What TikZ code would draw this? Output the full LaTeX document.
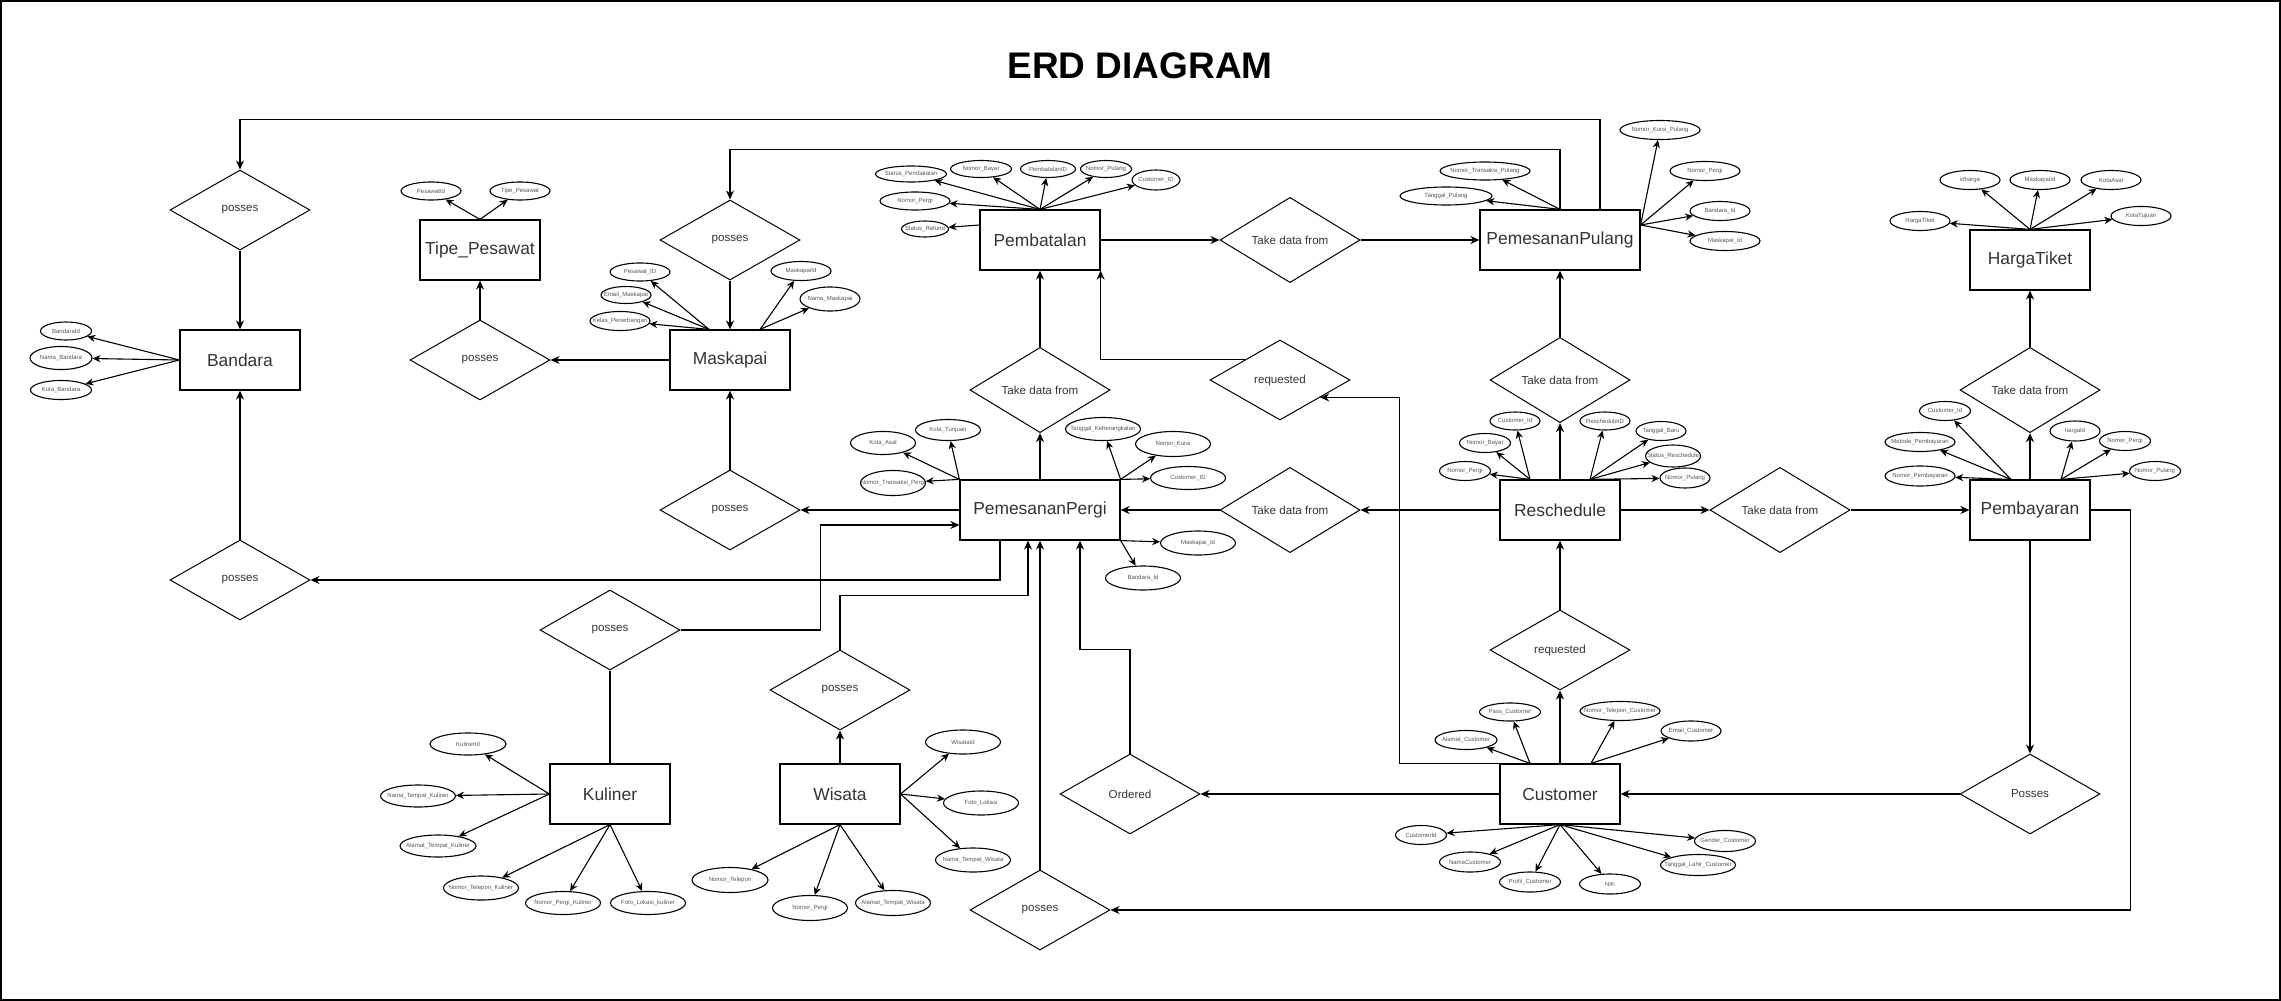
\documentclass[tikz,border=0pt]{standalone}
\usepackage{fontspec}
\setmainfont{Liberation Sans}
\usetikzlibrary{arrows.meta,shapes.geometric,calc}
\definecolor{txtgray}{HTML}{333333}
\definecolor{attrgray}{HTML}{555555}

\begin{document}
\begin{tikzpicture}[x=0.5pt, y=-0.5pt,
    entity/.style={draw, line width=0.6pt, minimum width=60pt, minimum height=30pt, inner sep=0pt, font=\fontsize{8.7}{10}\selectfont, text=txtgray},
    relation/.style={diamond, draw, line width=0.5pt, minimum width=70pt, minimum height=40pt, inner sep=0pt, font=\fontsize{5.8}{6.5}\selectfont, text=txtgray},
    attr/.style={ellipse, draw, line width=0.55pt, inner sep=0pt, minimum width=30pt, minimum height=9.5pt, label={[attrlabel]center:#1}},
    attrlabel/.style={font=\fontsize{3}{3.5}\selectfont, text=attrgray, inner sep=0pt},
    link/.style={-{Stealth[length=4.5pt,width=4pt]}, line width=0.65pt},
    prop/.style={-{Stealth[length=4pt,width=3.6pt]}, line width=0.55pt}]
  \useasboundingbox (0,0) rectangle (2281,1001);
  \draw[line width=0.8pt] (1,1) rectangle (2280,1000);

  \node[font=\bfseries\fontsize{18.5}{20}\selectfont] (title) at (1140,66) {ERD DIAGRAM};

  % Entities
  \node[entity] (bandara) at (240,360) {Bandara};
  \node[entity] (tipe) at (480,250) {Tipe\_Pesawat};
  \node[entity] (maskapai) at (730,360) {Maskapai};
  \node[entity] (pembatalan) at (1040,240) {Pembatalan};
  \node[entity, minimum width=80pt] (pulang) at (1560,240) {PemesananPulang};
  \node[entity] (harga) at (2030,260) {HargaTiket};
  \node[entity, minimum width=80pt] (pergi) at (1040,510) {PemesananPergi};
  \node[entity] (reschedule) at (1560,510) {Reschedule};
  \node[entity] (pembayaran) at (2030,510) {Pembayaran};
  \node[entity] (kuliner) at (610,794) {Kuliner};
  \node[entity] (wisata) at (840,794) {Wisata};
  \node[entity] (customer) at (1560,794) {Customer};

  % Relations
  \node[relation] (possesbandara) at (240,210) {posses};
  \node[relation] (possestipe) at (480,360) {posses};
  \node[relation] (possesmaskapai) at (730,240) {posses};
  \node[relation] (takepulang) at (1290,240) {Take data from};
  \node[relation] (requestbatal) at (1280,380) {requested};
  \node[relation] (takebatal) at (1040,390) {Take data from};
  \node[relation] (takeresc) at (1560,380) {Take data from};
  \node[relation] (takeharga) at (2030,390) {Take data from};
  \node[relation] (takepergi) at (1290,510) {Take data from};
  \node[relation] (takebayar) at (1780,510) {Take data from};
  \node[relation] (possesplane) at (730,510) {posses};
  \node[relation] (possesairport) at (240,580) {posses};
  \node[relation] (possesfood) at (610,630) {posses};
  \node[relation] (possestour) at (840,690) {posses};
  \node[relation] (requestresc) at (1560,650) {requested};
  \node[relation] (ordered) at (1130,794) {Ordered};
  \node[relation] (possesorder) at (1040,910) {posses};
  \node[relation] (possespay) at (2030,794) {Posses};

  % Attributes
  \node[attr={BandaraId}, minimum width=25.5pt, minimum height=9pt] (b1) at (66,331) {};
  \node[attr={Nama\_Bandara}, minimum width=31pt, minimum height=11.5pt] (b2) at (61,358) {};
  \node[attr={Kota\_Bandara}, minimum width=30.5pt] (b3) at (61,390) {};

  \node[attr={PesawatId}, minimum height=9pt] (t1) at (431,191) {};
  \node[attr={Tipe\_Pesawat}, minimum height=9pt] (t2) at (520,191) {};

  \node[attr={Pesawat\_ID}, minimum height=9pt] (m1) at (640,272) {};
  \node[attr={Email\_Maskapai}, minimum width=25pt, minimum height=8.5pt] (m2) at (626,295) {};
  \node[attr={Kelas\_Penerbangan}] (m3) at (620,321) {};
  \node[attr={MaskapaiId}] (m4) at (801,271) {};
  \node[attr={Nama\_Maskapai}, minimum height=12pt] (m5) at (830,299) {};

  \node[attr={Status\_Pembatalan}, minimum width=35.5pt, minimum height=8pt] (pb1) at (911,174) {};
  \node[attr={Nomor\_Bayar}, minimum width=30.5pt, minimum height=8.5pt] (pb2) at (981,169) {};
  \node[attr={PembatalanID}, minimum width=27.5pt, minimum height=8.5pt] (pb3) at (1048,169) {};
  \node[attr={Nomor\_Pulang}, minimum width=25.5pt, minimum height=8.5pt] (pb4) at (1106,169) {};
  \node[attr={Customer\_ID}, minimum width=24pt, minimum height=10pt] (pb5) at (1156,180) {};
  \node[attr={Nomor\_Pergi}, minimum width=35pt, minimum height=9pt] (pb6) at (915,201) {};
  \node[attr={Status\_Refund}, minimum width=23.5pt, minimum height=8pt] (pb7) at (925,229) {};

  \node[attr={Nomor\_Transaksi\_Pulang}, minimum width=45pt, minimum height=9pt] (pp1) at (1485,171) {};
  \node[attr={Tanggal\_Pulang}, minimum width=46pt, minimum height=9pt] (pp2) at (1446,196) {};
  \node[attr={Nomor\_Kursi\_Pulang}, minimum width=40pt] (pp3) at (1660,130) {};
  \node[attr={Nomor\_Pergi}, minimum width=35pt] (pp4) at (1705,171) {};
  \node[attr={Bandara\_Id}] (pp5) at (1720,211) {};
  \node[attr={Maskapai\_Id}, minimum width=35pt] (pp6) at (1725,241) {};

  \node[attr={idharga}] (h1) at (1970,180) {};
  \node[attr={MaskapaiId}] (h2) at (2040,180) {};
  \node[attr={KotaAsal}] (h3) at (2111,180) {};
  \node[attr={HargaTiket}] (h4) at (1920,221) {};
  \node[attr={KotaTujuan}] (h5) at (2141,216) {};

  \node[attr={Kota\_Asal}, minimum width=32.5pt, minimum height=11.5pt] (pg1) at (883,443) {};
  \node[attr={Kota\_Tunjuan}, minimum width=32.5pt, minimum height=10.5pt] (pg2) at (948,430) {};
  \node[attr={Nomor\_Transaksi\_Pergi}, minimum width=32.5pt, minimum height=12.5pt] (pg3) at (893,483) {};
  \node[attr={Tanggal\_Keberangkatan}, minimum width=37.5pt, minimum height=11.5pt] (pg4) at (1103,429) {};
  \node[attr={Nomor\_Kursi}, minimum width=37.5pt, minimum height=12.5pt] (pg5) at (1173,444) {};
  \node[attr={Customer\_ID}, minimum width=37.5pt, minimum height=11.5pt] (pg6) at (1188,478) {};
  \node[attr={Maskapai\_Id}, minimum width=37.5pt, minimum height=12pt] (pg7) at (1198,543) {};
  \node[attr={Bandara\_Id}, minimum width=37.5pt, minimum height=12pt] (pg8) at (1143,578) {};

  \node[attr={Customer\_Id}, minimum width=25pt, minimum height=9pt] (r1) at (1515,421) {};
  \node[attr={Nomor\_Bayar}, minimum width=25.5pt] (r2) at (1485,443) {};
  \node[attr={Nomor\_Pergi}, minimum width=25.5pt] (r3) at (1465,471) {};
  \node[attr={RescheduleID}, minimum width=25pt, minimum height=9pt] (r4) at (1605,421) {};
  \node[attr={Tanggal\_Baru}, minimum width=25pt] (r5) at (1661,431) {};
  \node[attr={Status\_Reschedule}, minimum width=27.5pt, minimum height=11pt] (r6) at (1673,456) {};
  \node[attr={Nomor\_Pulang}, minimum width=25pt, minimum height=10pt] (r7) at (1685,478) {};

  \node[attr={Customer\_Id}, minimum width=25.5pt] (py1) at (1945,411) {};
  \node[attr={Metode\_Pembayaran}, minimum width=35pt] (py2) at (1920,442) {};
  \node[attr={Nomor\_Pembayaran}, minimum width=35pt, minimum height=10pt] (py3) at (1920,476) {};
  \node[attr={hargaId}, minimum width=25pt, minimum height=10pt] (py4) at (2075,431) {};
  \node[attr={Nomor\_Pergi}, minimum width=25.5pt] (py5) at (2125,441) {};
  \node[attr={Nomor\_Pulang}, minimum width=25.5pt] (py6) at (2155,471) {};

  \node[attr={KulinerId}, minimum width=38pt, minimum height=11pt] (k1) at (468,744) {};
  \node[attr={Nama\_Tempat\_Kuliner}, minimum width=37.5pt, minimum height=11pt] (k2) at (418,796) {};
  \node[attr={Alamat\_Tempat\_Kuliner}, minimum width=38pt, minimum height=11pt] (k3) at (438,846) {};
  \node[attr={Nomor\_Telepon\_Kuliner}, minimum width=37.5pt, minimum height=12pt] (k4) at (481,888) {};
  \node[attr={Nomor\_Pergi\_Kuliner}, minimum width=37.5pt, minimum height=11.5pt] (k5) at (563,903) {};
  \node[attr={Foto\_Lokasi\_kuliner}, minimum width=37.5pt, minimum height=11.5pt] (k6) at (648,903) {};

  \node[attr={WisataId}, minimum width=37.5pt, minimum height=12pt] (w1) at (963,742) {};
  \node[attr={Foto\_Lokasi}, minimum width=37.5pt, minimum height=12pt] (w2) at (981,803) {};
  \node[attr={Nama\_Tempat\_Wisata}, minimum width=37.5pt, minimum height=12pt] (w3) at (973,860) {};
  \node[attr={Nomor\_Telepon}, minimum width=38pt, minimum height=12.5pt] (w4) at (730,880) {};
  \node[attr={Nomor\_Pergi}, minimum width=37.5pt, minimum height=12.5pt] (w5) at (810,908) {};
  \node[attr={Alamat\_Tempat\_Wisata}, minimum width=37.5pt, minimum height=12.5pt] (w6) at (893,903) {};

  \node[attr={Pass\_Customer}, minimum width=30.5pt, minimum height=9pt] (c1) at (1510,712) {};
  \node[attr={Alamat\_Customer}, minimum width=31pt] (c2) at (1466,740) {};
  \node[attr={Nomor\_Telepon\_Customer}, minimum width=40pt] (c3) at (1620,711) {};
  \node[attr={Email\_Customer}, minimum height=10pt] (c4) at (1691,731) {};
  \node[attr={CustomerId}, minimum width=25.5pt] (c5) at (1421,835) {};
  \node[attr={NamaCustomer}, minimum width=30.5pt, minimum height=10pt] (c6) at (1470,862) {};
  \node[attr={Profil\_Customer}, minimum width=30.5pt, minimum height=10pt] (c7) at (1530,882) {};
  \node[attr={NIK}, minimum width=30.5pt, minimum height=10pt] (c8) at (1610,884) {};
  \node[attr={Gender\_Customer}, minimum width=30.5pt, minimum height=10.5pt] (c9) at (1725,841) {};
  \node[attr={Tanggal\_Lahir\_Customer}, minimum width=37.5pt, minimum height=10.5pt] (c10) at (1698,865) {};

  % Attribute edges
  \foreach \a in {b1,b2,b3} \draw[prop] (bandara.west) -- (\a);
  \foreach \a in {t1,t2} \draw[prop] (tipe.north) -- (\a);
  \foreach \a in {m1,m2,m3} \draw[prop] ([xshift=-10.5pt]maskapai.north) -- (\a);
  \foreach \a in {m4,m5} \draw[prop] ([xshift=15pt]maskapai.north) -- (\a);
  \foreach \a in {pb1,pb2,pb3,pb4,pb5,pb6} \draw[prop] (pembatalan.north) -- (\a);
  \draw[prop] ([yshift=7.5pt]pembatalan.west) -- (pb7);
  \foreach \a in {pp1,pp2} \draw[prop] (pulang.north) -- (\a);
  \foreach \a in {pp3,pp4,pp5,pp6} \draw[prop] ([yshift=7.5pt]pulang.east) -- (\a);
  \foreach \a in {h1,h2,h3,h4,h5} \draw[prop] (harga.north) -- (\a);
  \foreach \a in {pg1,pg2,pg3} \draw[prop] (pergi.north west) -- (\a);
  \foreach \a in {pg4,pg5,pg6} \draw[prop] (pergi.north east) -- (\a);
  \foreach \a in {pg7,pg8} \draw[prop] (pergi.south east) -- (\a);
  \foreach \a in {r1,r2,r3} \draw[prop] ([xshift=-15pt]reschedule.north) -- (\a);
  \foreach \a in {r4,r5,r6,r7} \draw[prop] ([xshift=15pt]reschedule.north) -- (\a);
  \foreach \a in {py1,py2,py3} \draw[prop] ([xshift=-9.5pt]pembayaran.north) -- (\a);
  \foreach \a in {py4,py5,py6} \draw[prop] ([xshift=15.5pt]pembayaran.north) -- (\a);
  \foreach \a in {k1,k2,k3} \draw[prop] (kuliner.west) -- (\a);
  \foreach \a in {k4,k5,k6} \draw[prop] (kuliner.south) -- (\a);
  \foreach \a in {w1,w2,w3} \draw[prop] (wisata.east) -- (\a);
  \foreach \a in {w4,w5,w6} \draw[prop] (wisata.south) -- (\a);
  \foreach \a in {c1,c2} \draw[prop] ([xshift=-15pt]customer.north) -- (\a);
  \foreach \a in {c3,c4} \draw[prop] ([xshift=15.5pt]customer.north) -- (\a);
  \foreach \a in {c5,c6,c7,c8,c9,c10} \draw[prop] (customer.south) -- (\a);

  % Edges
  \draw[link] ([xshift=20pt]pulang.north) -- ++(0,-90) -| (possesbandara.north);
  \draw[link] (possesbandara) -- (bandara);
  \draw[link] (pulang.north) -- ++(0,-60) -| (possesmaskapai.north);
  \draw[link] (possesmaskapai) -- (maskapai);
  \draw[link] (maskapai) -- (possestipe);
  \draw[link] (possestipe) -- (tipe);
  \draw[link] (pembatalan) -- (takepulang);
  \draw[link] (takepulang) -- (pulang);
  \draw[link] (pergi) -- (takebatal);
  \draw[link] (takebatal) -- (pembatalan);
  \draw[link] ($(requestbatal.west)!.5!(requestbatal.north)$) -| (pembatalan.south east);
  \draw[link] (customer.north west) -- ++(-100,0) |- ($(requestbatal.east)!.43!(requestbatal.south)$);
  \draw[link] (reschedule) -- (takepergi);
  \draw[link] (takepergi) -- (pergi);
  \draw[link] (reschedule) -- (takebayar);
  \draw[link] (takebayar) -- (pembayaran);
  \draw[link] (reschedule) -- (takeresc);
  \draw[link] (takeresc) -- (pulang);
  \draw[link] (pembayaran) -- (takeharga);
  \draw[link] (takeharga) -- (harga);
  \draw[link] (pembayaran) -- (possespay);
  \draw[link] (possespay) -- (customer);
  \draw[link] (pembayaran.east) -- ++(40,0) |- (possesorder.east);
  \draw[link] (possesorder) -- (pergi);
  \draw[link] (customer) -- (ordered);
  \draw[link] (ordered.north) -- ++(0,-104) -| ([xshift=20pt]pergi.south);
  \draw[line width=0.65pt] (kuliner) -- (possesfood);
  \draw[link] (possesfood.east) -- ++(140,0) |- ([yshift=-7.5pt]pergi.west);
  \draw[link] ([xshift=-20pt]pergi.south) |- (possesairport.east);
  \draw[link] (possesairport) -- (bandara);
  \draw[link] (wisata) -- (possestour);
  \draw[link] (possestour.north) -- ++(0,-54) -| ([xshift=-6pt]pergi.south);
  \draw[link] (pergi) -- (possesplane);
  \draw[link] (possesplane) -- (maskapai);
  \draw[link] (customer) -- (requestresc);
  \draw[link] (requestresc) -- (reschedule);
\end{tikzpicture}
\end{document}
